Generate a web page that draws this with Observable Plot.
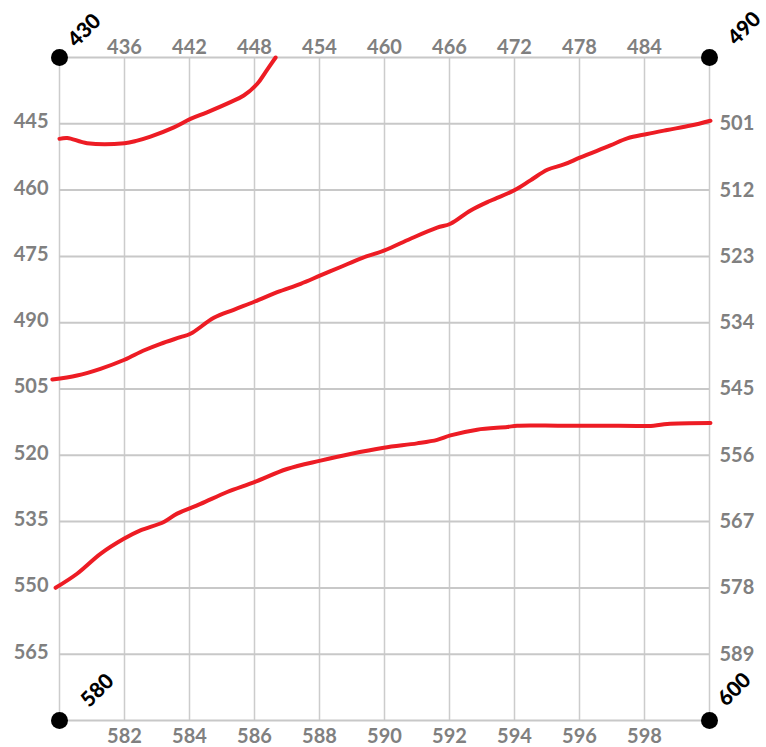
<!DOCTYPE html>
<html><head><meta charset="utf-8">
<script src="https://cdn.jsdelivr.net/npm/d3@7"></script>
<script src="https://cdn.jsdelivr.net/npm/@observablehq/plot@0.6"></script>
<style>
body{margin:0;background:#fff}
#chart svg{display:block}
#chart svg [aria-label$="tick label"] text{font-weight:700;fill:#808080}
#chart svg g.corner text{font-weight:900;fill:#000}
</style>
</head><body><div id="chart"></div>
<script>
// Axis tick values / labels
const bottomTicks = [582, 584, 586, 588, 590, 592, 594, 596, 598];
const topLabels = [436, 442, 448, 454, 460, 466, 472, 478, 484];
const leftTicks = [445, 460, 475, 490, 505, 520, 535, 550, 565];
const rightLabels = [501, 512, 523, 534, 545, 556, 567, 578, 589];
const gridXValues = [580, 582, 584, 586, 588, 590, 592, 594, 596, 598, 600];
const gridYValues = [430, 445, 460, 475, 490, 505, 520, 535, 550, 565, 580];

// Corner markers
const cornerX = [580, 600, 580, 600];
const cornerY = [430, 430, 580, 580];
const cornerLabels = ["430", "490", "580", "600"];

// Curves (x on bottom scale 580-600, y on left scale 430-580)
const curve1X = [580.0, 580.24, 580.85, 582.0, 582.39, 582.8, 583.52, 584.03, 584.54, 585.26, 585.67, 586.08, 586.34, 586.65];
const curve1Y = [448.4, 448.2, 449.4, 449.4, 448.8, 447.9, 445.8, 443.9, 442.4, 440.1, 438.6, 436.0, 433.3, 430.0];

const curve2X = [579.78, 580.54, 581.26, 582.0, 582.59, 583.11, 583.72, 584.03, 584.75, 585.36, 586.01, 586.7, 587.42, 588.03, 588.65, 589.26, 589.98, 590.8, 591.62, 592.03, 592.65, 593.26, 593.98, 594.49, 595.01, 595.52, 596.03, 596.95, 597.47, 598.08, 598.7, 599.42, 600.03];
const curve2Y = [502.85, 501.95, 500.43, 498.39, 496.29, 494.77, 493.28, 492.51, 488.89, 487.08, 485.2, 483.1, 481.2, 479.3, 477.4, 475.5, 473.7, 471.0, 468.5, 467.6, 464.6, 462.4, 460.1, 457.8, 455.4, 454.2, 452.6, 449.9, 448.3, 447.3, 446.4, 445.4, 444.3];

const curve3X = [579.88, 580.54, 581.26, 581.98, 582.49, 583.21, 583.62, 584.34, 585.16, 585.98, 587.0, 588.03, 588.95, 589.98, 591.0, 591.62, 592.03, 592.85, 593.78, 594.08, 595.42, 596.65, 598.28, 598.7, 600.03];
const curve3Y = [549.98, 546.8, 542.3, 538.9, 537.0, 535.1, 533.2, 531.0, 528.3, 526.1, 523.1, 521.2, 519.7, 518.3, 517.3, 516.5, 515.5, 514.2, 513.6, 513.3, 513.3, 513.3, 513.3, 512.9, 512.7];

const toPts = (xs, ys) => xs.map((x, i) => ({x, y: ys[i]}));
const corners = cornerX.map((x, i) => ({x, y: cornerY[i], label: cornerLabels[i]}));
const cornerOffsets = [[25, -27], [35, -29], [38, -30], [25, -31]];

const red = "#ed1c24";
const chart = Plot.plot({
  width: 766,
  height: 747,
  marginLeft: 59,
  marginRight: 57,
  marginTop: 57,
  marginBottom: 27,
  style: {fontFamily: "Lato, 'Open Sans', sans-serif", fontSize: "20px", color: "#808080", background: "#fff", overflow: "visible"},
  x: {domain: [580, 600]},
  y: {domain: [430, 580], reverse: true},
  marks: [
    Plot.gridX(gridXValues, {stroke: "#cccccc", strokeOpacity: 1, strokeWidth: 1.5}),
    Plot.gridY(gridYValues, {stroke: "#c8c8c8", strokeOpacity: 1, strokeWidth: 2}),
    Plot.axisX({anchor: "top", label: null, ticks: bottomTicks, tickSize: 0, tickPadding: 4, tickFormat: (d, i) => String(topLabels[i]), fontSize: 20}),
    Plot.axisX({anchor: "bottom", label: null, ticks: bottomTicks, tickSize: 0, tickPadding: 8, tickFormat: d => String(d), fontSize: 20}),
    Plot.axisY({anchor: "left", label: null, ticks: leftTicks, tickSize: 0, tickPadding: 11, dy: -2, tickFormat: d => String(d), fontSize: 20}),
    Plot.axisY({anchor: "right", label: null, ticks: leftTicks, tickSize: 0, tickPadding: 10, tickFormat: (d, i) => String(rightLabels[i]), fontSize: 20}),
    Plot.line(toPts(curve1X, curve1Y), {x: "x", y: "y", stroke: red, strokeWidth: 4, curve: "catmull-rom"}),
    Plot.line(toPts(curve2X, curve2Y), {x: "x", y: "y", stroke: red, strokeWidth: 4, curve: "catmull-rom"}),
    Plot.line(toPts(curve3X, curve3Y), {x: "x", y: "y", stroke: red, strokeWidth: 4, curve: "catmull-rom"}),
    Plot.dot(corners, {x: "x", y: "y", r: 8.5, fill: "#000", stroke: "none"}),
    ...corners.map((c, i) => Plot.text([c], {x: "x", y: "y", text: "label", rotate: -45, fill: "#000", fontSize: 21, fontWeight: 900, className: "corner", dx: cornerOffsets[i][0], dy: cornerOffsets[i][1]}))
  ]
});
document.getElementById("chart").appendChild(chart);
</script>
</body></html>
